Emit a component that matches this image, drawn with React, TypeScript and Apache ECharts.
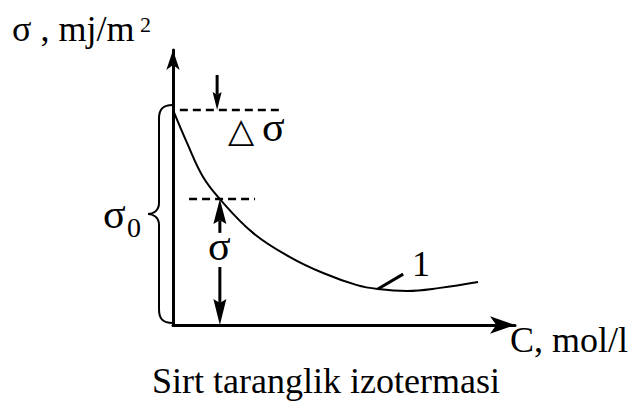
import React, { useEffect, useRef } from "react";
import * as echarts from "echarts";

// Surface tension isotherm: concentration C (x) vs surface tension σ (y), arbitrary units
const concentration = [0, 0.41, 0.88, 1.37, 2.34, 3.42, 4.39, 5.38, 5.99, 6.84, 7.81, 8.92];
const tension = [7.82, 6.62, 5.38, 4.58, 3.35, 2.47, 1.89, 1.45, 1.31, 1.24, 1.35, 1.56];

// σ0 is the tension of the pure solvent (C = 0); the marked point is the 4th curve point
const sigma0 = tension[0];
const markedC = concentration[3];
const markedSigma = tension[3];

// Dashed guide lines: [C start, C end, σ]
const guideLines = [
  [0.2, 3.13, sigma0],
  [0.47, 2.4, markedSigma],
];

// Dimension arrows: [C from, σ from, C to, σ to]
const arrows = [
  [1.29, 9.09, 1.29, sigma0],
  [markedC, 3.35, markedC, markedSigma],
  [markedC, 2.11, markedC, 0],
];

// Leader for curve label "1": [C, σ] pairs
const leader = [
  [5.99, 1.31],
  [6.73, 1.85],
];

const SERIF = "Liberation Serif";
const SYMBOL_FONT = "DejaVu Sans";
const arrowHeads = [
  { len: 18, width: 9 },
  { len: 25, width: 13 },
  { len: 26, width: 13 },
];

// Text placed by its left edge and alphabetic baseline
function txt(text: string, x: number, baseline: number, size: number, family: string) {
  return {
    type: "text",
    x,
    y: Math.round(baseline - size * 0.89),
    style: { text, fontFamily: family, fontSize: size, fill: "#000" },
  };
}

export default function App() {
  const ref = useRef<HTMLDivElement>(null);

  useEffect(() => {
    if (!ref.current) return;
    const chart = echarts.init(ref.current, null, { renderer: "svg" });

    const axisCommon = {
      type: "value",
      min: 0,
      max: 10,
      axisTick: { show: false },
      axisLabel: { show: false },
      splitLine: { show: false },
    };

    chart.setOption({
      animation: false,
      backgroundColor: "#fff",
      grid: { left: 173, top: 50, right: 119, bottom: 78 },
      xAxis: {
        ...axisCommon,
        axisLine: {
          show: true,
          symbol: ["none", "arrow"],
          symbolSize: [13, 25],
          lineStyle: { color: "#000", width: 3 },
        },
      },
      yAxis: {
        ...axisCommon,
        axisLine: {
          show: true,
          symbol: ["none", "arrow"],
          symbolSize: [10, 20],
          lineStyle: { color: "#000", width: 3 },
        },
      },
      series: [
        {
          type: "line",
          data: concentration.map((c, i) => [c, tension[i]]),
          smooth: 0.4,
          symbol: "none",
          clip: false,
          lineStyle: { color: "#000", width: 2 },
        },
        ...guideLines.map((g) => ({
          type: "line",
          data: [
            [g[0], g[2]],
            [g[1], g[2]],
          ],
          symbol: "none",
          lineStyle: { color: "#000", width: 2.5, type: [8, 5] },
        })),
        {
          type: "line",
          data: leader,
          symbol: "none",
          lineStyle: { color: "#000", width: 3 },
        },
        {
          type: "custom",
          data: arrows,
          renderItem: (params: any, api: any) => {
            const p1 = api.coord([api.value(0), api.value(1)]);
            const p2 = api.coord([api.value(2), api.value(3)]);
            const head = arrowHeads[params.dataIndex];
            const dx = p2[0] - p1[0];
            const dy = p2[1] - p1[1];
            const l = Math.hypot(dx, dy) || 1;
            const ux = dx / l;
            const uy = dy / l;
            const nx = -uy;
            const ny = ux;
            const bx = p2[0] - ux * head.len;
            const by = p2[1] - uy * head.len;
            const notch = head.len * 0.15;
            return {
              type: "group",
              children: [
                {
                  type: "line",
                  shape: { x1: p1[0], y1: p1[1], x2: bx + ux * notch, y2: by + uy * notch },
                  style: { stroke: "#000", lineWidth: 3 },
                },
                {
                  type: "polygon",
                  shape: {
                    points: [
                      [p2[0], p2[1]],
                      [bx + (nx * head.width) / 2, by + (ny * head.width) / 2],
                      [bx + ux * notch, by + uy * notch],
                      [bx - (nx * head.width) / 2, by - (ny * head.width) / 2],
                    ],
                  },
                  style: { fill: "#000" },
                },
              ],
            };
          },
        },
        {
          type: "custom",
          data: [[0, sigma0]],
          clip: false,
          renderItem: (params: any, api: any) => {
            const top = api.coord([api.value(0), api.value(1)]);
            const bottom = api.coord([api.value(0), 0]);
            const x0 = top[0];
            const xv = x0 - 14;
            const xt = x0 - 25;
            const yt = top[1] - 5;
            const yb = bottom[1] - 2;
            const ym = (yt + yb) / 2;
            const d =
              `M${x0} ${yt} C${xv + 3} ${yt} ${xv} ${yt + 5} ${xv} ${yt + 14} ` +
              `L${xv} ${ym - 11} C${xv} ${ym - 3} ${xt + 5} ${ym} ${xt} ${ym} ` +
              `C${xt + 5} ${ym} ${xv} ${ym + 3} ${xv} ${ym + 11} ` +
              `L${xv} ${yb - 14} C${xv} ${yb - 5} ${xv + 3} ${yb} ${x0} ${yb}`;
            return {
              type: "path",
              shape: { pathData: d },
              style: { stroke: "#000", lineWidth: 2, fill: "none" },
            };
          },
        },
      ],
      graphic: [
        txt("σ , mj/m", 12, 43, 36, SERIF),
        txt("2", 140, 33, 22, SERIF),
        txt("△", 228, 143, 34, SYMBOL_FONT),
        txt("σ", 262, 143, 42, SERIF),
        txt("σ", 208, 262, 42, SERIF),
        txt("σ", 103, 230, 42, SERIF),
        txt("0", 127, 238, 28, SERIF),
        txt("1", 412, 278, 36, SERIF),
        txt("C, mol/l", 510, 354, 36, SERIF),
        txt("Sirt taranglik izotermasi", 152, 395, 36, SERIF),
      ],
    });

    return () => chart.dispose();
  }, []);

  return (
    <div
      ref={ref}
      style={{ position: "absolute", left: 0, top: 0, width: 634, height: 403, background: "#fff" }}
    />
  );
}
